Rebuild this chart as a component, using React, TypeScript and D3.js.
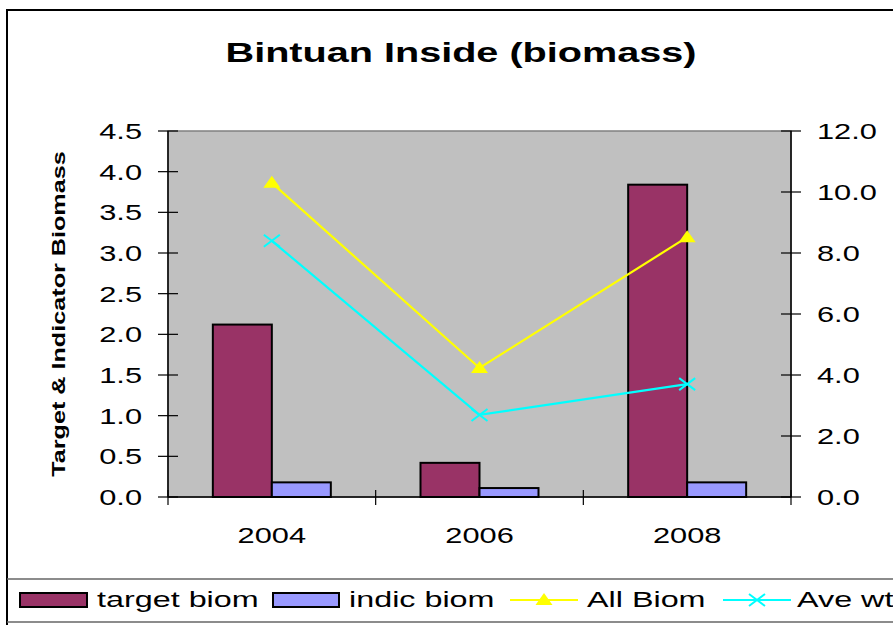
import React from 'react';
import * as d3 from 'd3';

const categories = ['2004', '2006', '2008'];
const targetBiom = [2.12, 0.42, 3.84];
const indicBiom = [0.18, 0.11, 0.18];
const allBiom = [10.3, 4.23, 8.52];
const aveWt = [8.4, 2.69, 3.7];
const leftTicks = [0, 0.5, 1, 1.5, 2, 2.5, 3, 3.5, 4, 4.5];
const rightTicks = [0, 2, 4, 6, 8, 10, 12];
const seriesNames = ['target biom', 'indic biom', 'All Biom', 'Ave wt'];

const FONT = '"Liberation Sans", Arial, sans-serif';
const SX = 1.4;

const plot = { left: 168, right: 791, top: 131, bottom: 497 };

function T({ x, y, children, size = 22, anchor = 'start', weight = 'normal', rotate = 0, sx = SX }: any) {
  return (
    <text
      transform={`translate(${x},${y}) rotate(${rotate}) scale(${sx},1)`}
      textAnchor={anchor}
      fontFamily={FONT}
      fontSize={size}
      fontWeight={weight}
      fill="#000"
    >
      {children}
    </text>
  );
}

function Tri({ cx, cy }: any) {
  return <path d={`M${cx},${cy - 7} L${cx + 8.5},${cy + 5} L${cx - 8.5},${cy + 5} Z`} fill="#FFFF00" />;
}
function Cross({ cx, cy, color }: any) {
  return (
    <path
      d={`M${cx - 8},${cy - 6} L${cx + 8},${cy + 6} M${cx - 8},${cy + 6} L${cx + 8},${cy - 6}`}
      stroke={color}
      strokeWidth={2}
      fill="none"
    />
  );
}

export default function App() {
  const x = d3.scaleBand<string>().domain(categories).range([plot.left, plot.right]).padding(0);
  const bw = x.bandwidth();
  const x1 = d3.scaleBand<string>().domain(['target', 'indic']).range([0, bw]).paddingInner(0).paddingOuter(0.76);
  const yL = d3.scaleLinear().domain([0, 4.5]).range([plot.bottom, plot.top]);
  const yR = d3.scaleLinear().domain([0, 12]).range([plot.bottom, plot.top]);
  const cx = (c: string) => (x(c) as number) + bw / 2;

  const line = d3
    .line<[number, number]>()
    .x((d) => d[0])
    .y((d) => d[1]);
  const allPts: [number, number][] = categories.map((c, i) => [cx(c), yR(allBiom[i])]);
  const avePts: [number, number][] = categories.map((c, i) => [cx(c), yR(aveWt[i])]);

  const catTicks = [plot.left, ...categories.map((c) => (x(c) as number) + bw)];
  const LSX = 1.47;

  return (
    <svg width={893} height={625} style={{ position: 'absolute', left: 0, top: 0, background: '#fff' }}>
      <rect x={0} y={0} width={893} height={625} fill="#fff" />
      {/* chart border */}
      <rect x={7} y={10} width={920} height={700} fill="none" stroke="#000" strokeWidth={2} />
      {/* title */}
      <T x={461} y={62} size={28} weight="bold" anchor="middle" sx={1.415}>Bintuan Inside (biomass)</T>
      {/* plot area */}
      <rect x={plot.left} y={plot.top} width={plot.right - plot.left} height={plot.bottom - plot.top} fill="#C0C0C0" stroke="#808080" strokeWidth={1.5} />
      {/* bars */}
      {categories.map((c, i) => (
        <g key={c}>
          <rect
            x={(x(c) as number) + (x1('target') as number)}
            y={yL(targetBiom[i])}
            width={x1.bandwidth()}
            height={plot.bottom - yL(targetBiom[i])}
            fill="#993366"
            stroke="#000"
            strokeWidth={2}
          />
          <rect
            x={(x(c) as number) + (x1('indic') as number)}
            y={yL(indicBiom[i])}
            width={x1.bandwidth()}
            height={plot.bottom - yL(indicBiom[i])}
            fill="#9999FF"
            stroke="#000"
            strokeWidth={2}
          />
        </g>
      ))}
      {/* lines */}
      <path d={line(allPts) || ''} stroke="#FFFF00" strokeWidth={2.2} fill="none" />
      <path d={line(avePts) || ''} stroke="#00FFFF" strokeWidth={2.2} fill="none" />
      {allPts.map((p, i) => (
        <Tri key={'t' + i} cx={p[0]} cy={p[1]} />
      ))}
      {avePts.map((p, i) => (
        <Cross key={'c' + i} cx={p[0]} cy={p[1]} color="#00FFFF" />
      ))}
      {/* axes */}
      <line x1={plot.left} x2={plot.left} y1={plot.top} y2={plot.bottom} stroke="#000" strokeWidth={1.5} />
      <line x1={plot.right} x2={plot.right} y1={plot.top} y2={plot.bottom} stroke="#000" strokeWidth={1.5} />
      <line x1={plot.left} x2={plot.right} y1={plot.bottom} y2={plot.bottom} stroke="#000" strokeWidth={1.5} />
      {leftTicks.map((t) => (
        <g key={'l' + t}>
          <line x1={plot.left - 10} x2={plot.left + 10} y1={yL(t)} y2={yL(t)} stroke="#000" strokeWidth={1.2} />
          <T x={142} y={yL(t) + 8} anchor="end">{t.toFixed(1)}</T>
        </g>
      ))}
      {rightTicks.map((t) => (
        <g key={'r' + t}>
          <line x1={plot.right - 10} x2={plot.right + 10} y1={yR(t)} y2={yR(t)} stroke="#000" strokeWidth={1.2} />
          <T x={817} y={yR(t) + 8}>{t.toFixed(1)}</T>
        </g>
      ))}
      {catTicks.map((t, i) => (
        <line key={'ct' + i} x1={t} x2={t} y1={plot.bottom - 7} y2={plot.bottom + 8} stroke="#000" strokeWidth={1.2} />
      ))}
      {categories.map((c) => (
        <T key={'xl' + c} x={cx(c)} y={543} anchor="middle">{c}</T>
      ))}
      {/* y axis title */}
      <T x={65} y={314} rotate={-90} size={18} weight="bold" anchor="middle">Target &amp; Indicator Biomass</T>
      {/* legend */}
      <line x1={7} x2={893} y1={579} y2={579} stroke="#666" strokeWidth={1.5} />
      <line x1={7} x2={893} y1={622} y2={622} stroke="#666" strokeWidth={1.5} />
      <rect x={20} y={593} width={67} height={14} fill="#993366" stroke="#000" strokeWidth={2} />
      <T x={97} y={607} sx={LSX}>{seriesNames[0]}</T>
      <rect x={273} y={593} width={66} height={14} fill="#9999FF" stroke="#000" strokeWidth={2} />
      <T x={349} y={607} sx={LSX}>{seriesNames[1]}</T>
      <line x1={510} x2={578} y1={600} y2={600} stroke="#FFFF00" strokeWidth={2.2} />
      <Tri cx={544} cy={600} />
      <T x={587} y={607} sx={LSX}>{seriesNames[2]}</T>
      <line x1={723} x2={791} y1={600} y2={600} stroke="#00FFFF" strokeWidth={2.2} />
      <Cross cx={757} cy={600} color="#00FFFF" />
      <T x={797} y={607} sx={LSX}>{seriesNames[3]}</T>
    </svg>
  );
}
